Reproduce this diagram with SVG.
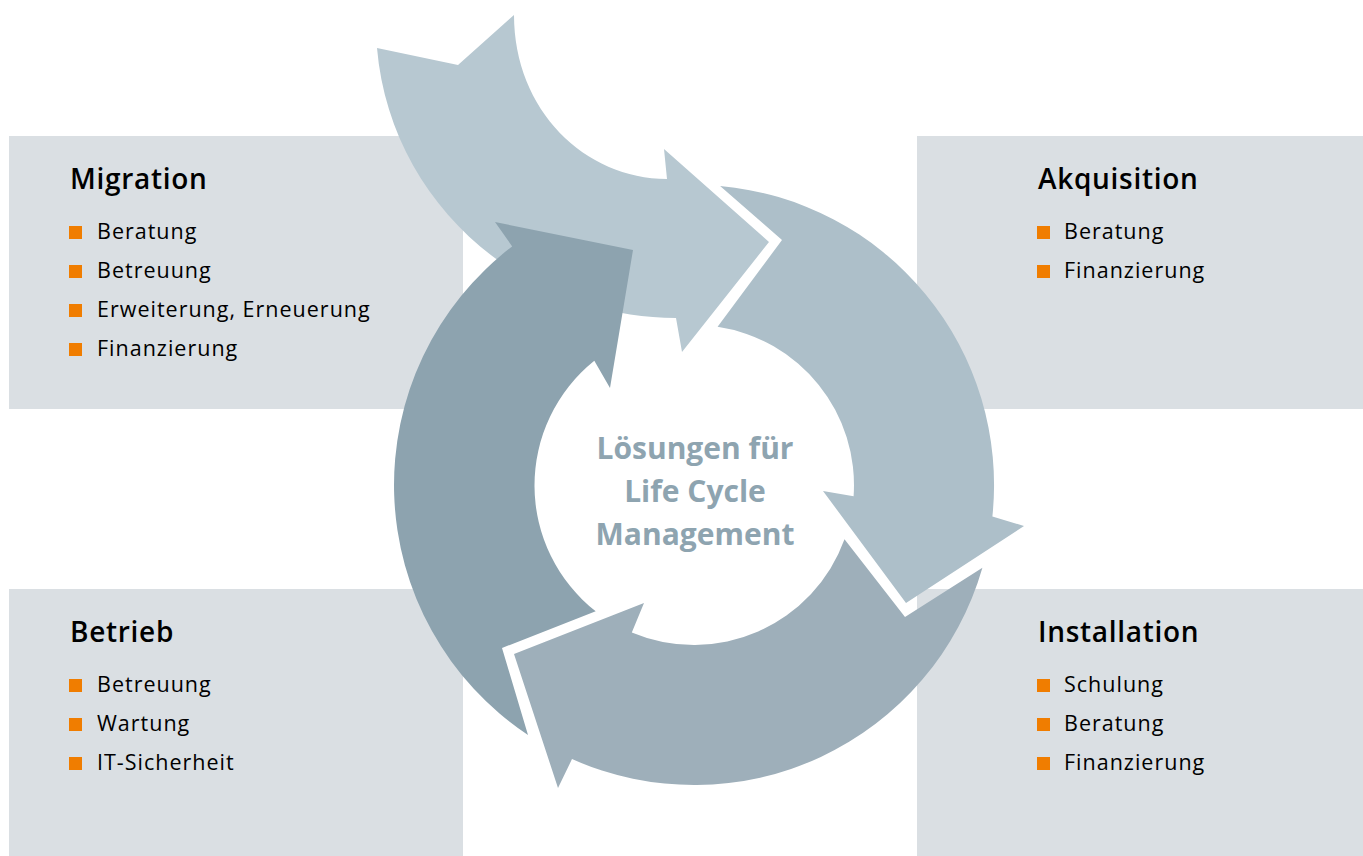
<svg xmlns="http://www.w3.org/2000/svg" width="1363" height="856" viewBox="0 0 1363 856">
<style>
.box{fill:#dadfe3}
.title{font-family:"Open Sans","Noto Sans","Liberation Sans",sans-serif;font-size:28px;font-weight:600;fill:#000;letter-spacing:0.7px}
.item{font-family:"Open Sans","Noto Sans","Liberation Sans",sans-serif;font-size:21.5px;fill:#000;letter-spacing:1px}
.bullet{fill:#f07d00}
.center{font-family:"Open Sans","Noto Sans","Liberation Sans",sans-serif;font-size:30px;font-weight:700;fill:#8ea4b0;text-anchor:middle}
</style>
<defs>
<rect id="b" class="bullet" width="13" height="13"/>
</defs>
<g id="migration">
<rect class="box" x="9" y="136" width="454" height="273"/>
<text class="title" x="70" y="189">Migration</text>
<use href="#b" x="69" y="226"/><text class="item" x="97" y="239">Beratung</text>
<use href="#b" x="69" y="265"/><text class="item" x="97" y="278">Betreuung</text>
<use href="#b" x="69" y="304"/><text class="item" x="97" y="317">Erweiterung, Erneuerung</text>
<use href="#b" x="69" y="343"/><text class="item" x="97" y="356">Finanzierung</text>
</g>
<g id="akquisition">
<rect class="box" x="917" y="136" width="446" height="273"/>
<text class="title" x="1038" y="189">Akquisition</text>
<use href="#b" x="1037" y="226"/><text class="item" x="1064" y="239">Beratung</text>
<use href="#b" x="1037" y="265"/><text class="item" x="1064" y="278">Finanzierung</text>
</g>
<g id="betrieb">
<rect class="box" x="9" y="589" width="454" height="267"/>
<text class="title" x="70" y="642">Betrieb</text>
<use href="#b" x="69" y="679"/><text class="item" x="97" y="692">Betreuung</text>
<use href="#b" x="69" y="718"/><text class="item" x="97" y="731">Wartung</text>
<use href="#b" x="69" y="757"/><text class="item" x="97" y="770">IT-Sicherheit</text>
</g>
<g id="installation">
<rect class="box" x="917" y="589" width="446" height="267"/>
<text class="title" x="1038" y="642">Installation</text>
<use href="#b" x="1037" y="679"/><text class="item" x="1064" y="692">Schulung</text>
<use href="#b" x="1037" y="718"/><text class="item" x="1064" y="731">Beratung</text>
<use href="#b" x="1037" y="757"/><text class="item" x="1064" y="770">Finanzierung</text>
</g>
<g id="connectors">
<path id="arrow-top" fill="#b7c8d1" d="M377,48 L458,65 L514,15 C514,110 585,179 667,179 L664,149 L769,242 L682,352 L676,318 C520,318 390,200 377,48 Z"/>
<path id="arrow-right" fill="#adbfc9" d="M720.1,186.1 A300 300 0 0 1 992.4,516.4 L1024,526 L906,603 L823,491 L853.6,496.2 A160 160 0 0 0 717.6,326.8 L782,240 Z"/>
<path id="arrow-bottom" fill="#9eafba" d="M982.4,567.7 A300 300 0 0 1 572,759.1 L558,788 L514,654 L644,603 L631.8,632.4 A160 160 0 0 0 844.5,539.2 L905,617 Z"/>
<path id="arrow-left" fill="#8da3af" d="M528,734.9 A300 300 0 0 1 512.2,246.4 L495,222 L633,250 L610,388 L594.3,360.7 A160 160 0 0 0 595.7,611.3 L502,648 Z"/>
</g>
<g id="center-label">
<text class="center" x="695" y="459">Lösungen für</text>
<text class="center" x="695" y="502">Life Cycle</text>
<text class="center" x="695" y="545">Management</text>
</g>
</svg>
